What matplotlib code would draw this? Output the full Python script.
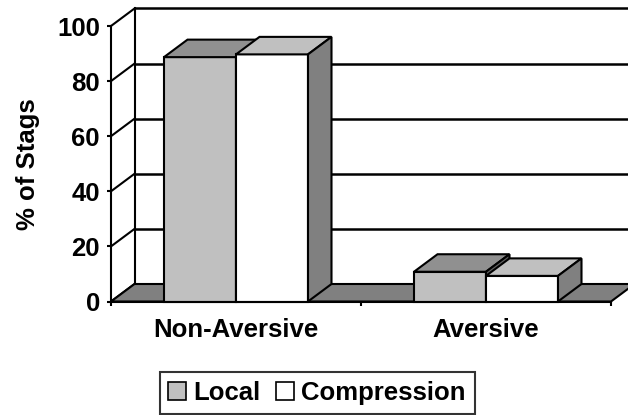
import matplotlib
matplotlib.use("Agg")
import matplotlib.pyplot as plt
from matplotlib.patches import Polygon, Patch

# data
categories = ["Non-Aversive", "Aversive"]
series = ["Local", "Compression"]
local = [88.7, 10.8]
compression = [89.7, 9.3]
yticks = [0, 20, 40, 60, 80, 100]

front_cols = ["#C0C0C0", "#FFFFFF"]
top_cols = ["#909090", "#C0C0C0"]
side_cols = ["#606060", "#808080"]

plt.rcParams["font.family"] = ["Liberation Sans", "DejaVu Sans"]
plt.rcParams["font.weight"] = "bold"
FS = 18.5

W, H = 628, 415
fig = plt.figure(figsize=(W / 100, H / 100), dpi=100)
ax = fig.add_axes([111 / W, (H - 301.5) / H, 500 / W, 275.5 / H])
ax.set_xlim(0, 2)
ax.set_ylim(0, 100)

# oblique depth offset (category units, value units)
DX = 23.5 / 250
DY = 17.5 / 2.755
BW = 0.288
LW = 1.5


def face(pts, color, z):
    ax.add_patch(Polygon(pts, closed=True, facecolor=color, edgecolor="black",
                         linewidth=LW, joinstyle="miter", clip_on=False, zorder=z))


# back wall gridlines
for v in yticks[1:]:
    ax.plot([DX, 2 + DX], [v + DY, v + DY], color="black", lw=LW + 0.3,
            clip_on=False, zorder=1, solid_capstyle="butt")
# left wall
ax.plot([DX, DX], [DY, 100 + DY], color="black", lw=LW, clip_on=False, zorder=1)
for v in yticks:
    ax.plot([0, DX], [v, v + DY], color="black", lw=LW, clip_on=False, zorder=1)

# floor
face([(0, 0), (2, 0), (2 + DX, DY), (DX, DY)], "#808080", 2)

# bars, back to front / left to right
z = 3
for i, cat in enumerate(categories):
    for j, vals in enumerate([local, compression]):
        v = vals[i]
        x0 = i + 0.5 - BW + j * BW
        x1 = x0 + BW
        face([(x0, 0), (x1, 0), (x1, v), (x0, v)], front_cols[j], z)
        face([(x0, v), (x1, v), (x1 + DX, v + DY), (x0 + DX, v + DY)], top_cols[j], z + 0.1)
        face([(x1, 0), (x1 + DX, DY), (x1 + DX, v + DY), (x1, v)], side_cols[j], z + 0.2)
        z += 1

# axes
for s in ["top", "right"]:
    ax.spines[s].set_visible(False)
for s in ["left", "bottom"]:
    ax.spines[s].set_linewidth(LW)
    ax.spines[s].set_zorder(20)
ax.set_yticks(yticks)
ax.tick_params(axis="y", length=3, width=LW, pad=5, labelsize=FS)
ax.set_xticks([0, 1, 2])
ax.set_xticklabels([])
ax.set_xticks([0.5, 1.5], minor=True)
ax.set_xticklabels(categories, minor=True)
ax.tick_params(axis="x", which="major", length=3, width=LW)
ax.tick_params(axis="x", which="minor", length=0, pad=12, labelsize=FS)
ax.set_ylabel("% of Stags", fontsize=FS, fontweight="bold")
ax.yaxis.set_label_coords(-0.142, 0.5)

handles = [Patch(facecolor=c, edgecolor="black", linewidth=1.2) for c in front_cols]
leg = fig.legend(handles, series, loc="center", bbox_to_anchor=(317 / W, 1 - 393 / H),
                 ncol=2, fontsize=FS, frameon=True, fancybox=False,
                 handlelength=0.7, handleheight=0.7, handletextpad=0.27,
                 columnspacing=0.6, borderpad=0.35, borderaxespad=0)
leg.get_frame().set_edgecolor("black")
leg.get_frame().set_linewidth(LW)

fig.savefig("out.png", dpi=100)
